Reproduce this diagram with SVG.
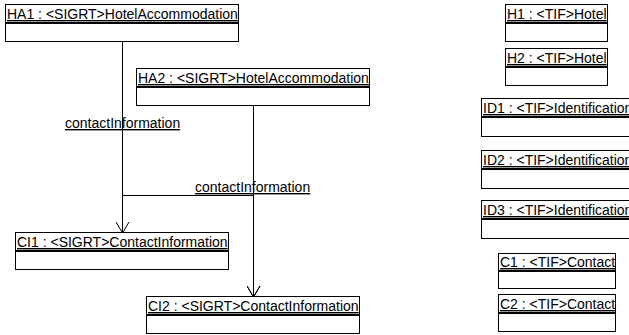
<svg xmlns="http://www.w3.org/2000/svg" width="629" height="335" viewBox="0 0 629 335">
<style>
.box{fill:#fff;stroke:#000;stroke-width:1}
.sep{stroke:#000;stroke-width:2}
.t{font-family:"Liberation Sans",Arial,sans-serif;font-size:14px;fill:#000;text-decoration:underline}
.c{fill:none;stroke:#000;stroke-width:1}
</style>
<defs>
<marker id="arr" markerUnits="userSpaceOnUse" markerWidth="16" markerHeight="14" refX="13" refY="7" orient="auto" viewBox="0 0 16 14">
<path d="M2,0.5 L13,7 L2,13.5" fill="none" stroke="#000" stroke-width="1"/>
</marker>
</defs>
<rect width="629" height="335" fill="#fff"/>
<g id="connectors">
<path class="c" d="M122.5,41 V233" marker-end="url(#arr)"/>
<path class="c" d="M122.5,41 V195.5 H253.5 V297" marker-end="url(#arr)"/>
<path class="c" d="M253.5,105 V297" marker-end="url(#arr)"/>
<text class="t" x="65" y="128">contactInformation</text>
<text class="t" x="195" y="192">contactInformation</text>
</g>
<g id="HA1"><rect class="box" x="5.5" y="4.5" width="233" height="37"/><line class="sep" x1="5.5" y1="23" x2="238.5" y2="23"/><text class="t" x="7" y="19">HA1 : &lt;SIGRT&gt;HotelAccommodation</text></g>
<g id="HA2"><rect class="box" x="136.5" y="68.5" width="233" height="37"/><line class="sep" x1="136.5" y1="87" x2="369.5" y2="87"/><text class="t" x="138" y="83">HA2 : &lt;SIGRT&gt;HotelAccommodation</text></g>
<g id="CI1"><rect class="box" x="15.5" y="232.5" width="213" height="37"/><line class="sep" x1="15.5" y1="251" x2="228.5" y2="251"/><text class="t" x="17" y="247">CI1 : &lt;SIGRT&gt;ContactInformation</text></g>
<g id="CI2"><rect class="box" x="146.5" y="296.5" width="213" height="37"/><line class="sep" x1="146.5" y1="315" x2="359.5" y2="315"/><text class="t" x="148" y="311">CI2 : &lt;SIGRT&gt;ContactInformation</text></g>
<g id="H1"><rect class="box" x="505.5" y="4.5" width="102" height="37"/><line class="sep" x1="505.5" y1="23" x2="607.5" y2="23"/><text class="t" x="507" y="19">H1 : &lt;TIF&gt;Hotel</text></g>
<g id="H2"><rect class="box" x="505.5" y="48.5" width="102" height="37"/><line class="sep" x1="505.5" y1="67" x2="607.5" y2="67"/><text class="t" x="507" y="63">H2 : &lt;TIF&gt;Hotel</text></g>
<g id="ID1"><rect class="box" x="481.5" y="98.5" width="152" height="38"/><line class="sep" x1="481.5" y1="117" x2="633" y2="117"/><text class="t" x="483" y="113">ID1 : &lt;TIF&gt;Identification</text></g>
<g id="ID2"><rect class="box" x="481.5" y="150.5" width="152" height="38"/><line class="sep" x1="481.5" y1="169" x2="633" y2="169"/><text class="t" x="483" y="165">ID2 : &lt;TIF&gt;Identification</text></g>
<g id="ID3"><rect class="box" x="481.5" y="200.5" width="152" height="38"/><line class="sep" x1="481.5" y1="219" x2="633" y2="219"/><text class="t" x="483" y="215">ID3 : &lt;TIF&gt;Identification</text></g>
<g id="C1"><rect class="box" x="498.5" y="253.5" width="117" height="35"/><line class="sep" x1="498.5" y1="271" x2="615.5" y2="271"/><text class="t" x="500" y="267">C1 : &lt;TIF&gt;Contact</text></g>
<g id="C2"><rect class="box" x="498.5" y="294.5" width="117" height="37"/><line class="sep" x1="498.5" y1="313" x2="615.5" y2="313"/><text class="t" x="500" y="309">C2 : &lt;TIF&gt;Contact</text></g>
</svg>
